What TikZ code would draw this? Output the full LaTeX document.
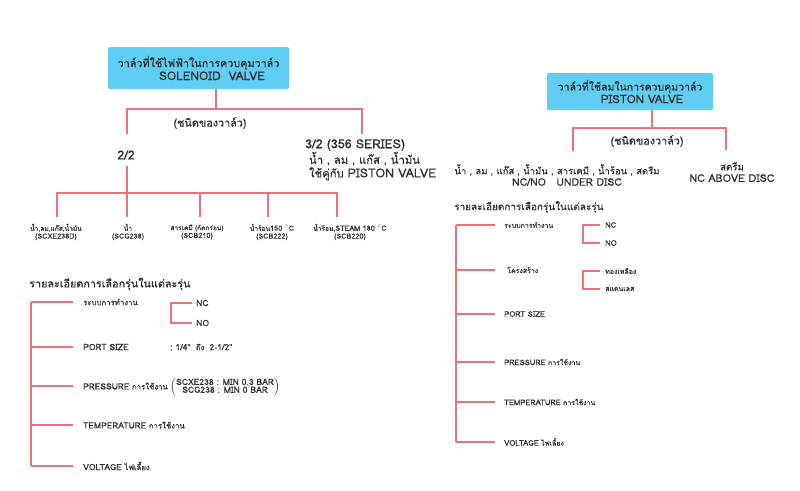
\documentclass[tikz,border=0pt]{standalone}
\usepackage{fontspec}
\newfontfamily\thaifont[Script=Thai, FakeBold=0.3]{Loma}
\newfontfamily\latfont[Scale=1.1, FakeBold=0.3]{Loma}
\usetikzlibrary{positioning,calc}
\definecolor{boxBlue}{RGB}{96,205,242}
\definecolor{linkRed}{RGB}{238,112,122}
\definecolor{textGray}{RGB}{45,45,45}
\newcommand{\fsz}[1]{\fontsize{#1}{1.2\dimexpr #1pt\relax}\selectfont}
\newcommand{\en}[1]{{\latfont #1}}
% one detail line of a list: name, position, text
\newcommand{\dtItem}[3]{\node[item] (#1) at (#2) {#3};}
\tikzset{
  vbox/.style={fill=boxBlue, rounded corners=2pt, align=center,
    inner sep=0pt, text=textGray, font=\thaifont\fsz{10.8}},
  link/.style={draw=linkRed, line width=1.1pt},
  txt/.style={text=textGray, inner sep=0pt, font=\thaifont\fsz{10.8}},
  bigtxt/.style={txt, font=\thaifont\fsz{11.3}},
  tiny/.style={txt, align=center, font=\thaifont\fsz{6.6}},
  item/.style={txt, anchor=west, font=\thaifont\fsz{7.8}},
  head/.style={txt, anchor=west, font=\thaifont\fsz{10.8}}
}

\begin{document}
\begin{tikzpicture}[x=1pt, y=1pt]
  \useasboundingbox[fill=white] (0,0) rectangle (800,-490);

  % ---- solenoid valve
  \node[vbox, minimum width=181pt, minimum height=42pt] (sol) at (198.5,-68)
    {วาล์วที่ใช้ไฟฟ้าในการควบคุมวาล์ว\\ \hspace*{27pt}\en{SOLENOID\ \ VALVE}};
  \node[txt] (soltype) at (210,-123) {(ชนิดของวาล์ว)};
  \node[bigtxt] (t22) at (126,-155) {\en{2/2}};
  \node[bigtxt, anchor=north west, align=left] (t32) at (305,-139)
    {\en{3/2 (356 SERIES)}\\ \ น้ำ , ลม , แก๊ส , น้ำมัน\\ \ ใช้คู่กับ \en{PISTON VALVE}};
  \coordinate (solJ) at (216,-109);
  \coordinate (t22top) at (127,-134);
  \coordinate (t32top) at (362,-134);
  \draw[link] (sol.south -| solJ) -- (solJ);
  \draw[link] (t22top) |- (solJ) -| (t32top);

  \node[tiny] (lab1) at (56,-232)  {น้ำ,ลม,แก๊ส,น้ำมัน\\\en{(SCXE238D)}};
  \node[tiny] (lab2) at (128,-232) {น้ำ\\\en{(SCG238)}};
  \node[tiny] (lab3) at (197,-232) {สารเคมี (กัดกร่อน)\\\en{(SCB210)}};
  \node[tiny] (lab4) at (272,-232) {น้ำร้อน\en{150 $^{\circ}$C}\\\en{(SCB222)}};
  \node[tiny] (lab5) at (350,-232) {น้ำร้อน,\en{STEAM 180 $^{\circ}$C}\\\en{(SCB220)}};
  \coordinate (bar1) at (57,-193);
  \coordinate (bar5) at (337,-193);
  \coordinate (d1) at (57,-217);
  \coordinate (d2) at (127,-217);
  \coordinate (d3) at (200,-217);
  \coordinate (d4) at (268,-217);
  \coordinate (d5) at (337,-217);
  \draw[link] (t22.south -| d2) ++(0,-6) -- (d2);
  \draw[link] (d1) |- (bar5) -- (d5);
  \path[link]
  (d3 |- bar1) edge (d3)
  (d4 |- bar1) edge (d4)
  ;

  % ---- solenoid details
  \node[head] (ldet) at (29,-284) {รายละเอียดการเลือกรุ่นในแต่ละรุ่น};
  \coordinate (lspine) at (31,-302);
  \dtItem{li1}{83,-302}{ระบบการทำงาน}
  \dtItem{li2}{83,-347}{\en{PORT SIZE}}
  \dtItem{li3}{83,-386}{\en{PRESSURE} การใช้งาน}
  \dtItem{li4}{83,-425}{\en{TEMPERATURE} การใช้งาน}
  \dtItem{li5}{83,-466}{\en{VOLTAGE} ไฟเลี้ยง}
  \draw[link] (li1.west -| lspine) -- (li5.west -| lspine);
  \path[link, shorten >=10pt]
  (li1.west -| lspine) edge (li1.west)
  (li2.west -| lspine) edge (li2.west)
  (li3.west -| lspine) edge (li3.west)
  (li4.west -| lspine) edge (li4.west)
  (li5.west -| lspine) edge (li5.west)
  ;
  \dtItem{lnc}{196,-303}{\en{NC}}
  \dtItem{lno}{196,-323}{\en{NO}}
  \draw[link, shorten <=4pt, shorten >=4pt] (lnc.west) -- ++(-25,0) |- (lno.west);
  \dtItem{lport}{170,-347}{\en{:\ 1/4"}\ \ ถึง\ \ \en{2-1/2"}}
  \node[txt, font=\thaifont\fsz{7.8}] (lpres) at (225,-387)
    {$\left(\mbox{\latfont\begin{tabular}{@{}c@{}}SCXE238 : MIN 0.3 BAR\\[-1.5pt] SCG238 : MIN 0 BAR\end{tabular}}\right)$};

  % ---- piston valve
  \node[vbox, font=\thaifont\fsz{10.5}, minimum width=166pt, minimum height=37pt] (pis) at (630,-91.5)
    {วาล์วที่ใช้ลมในการควบคุมวาล์ว\\ \hspace*{24pt}\en{PISTON VALVE}};
  \node[txt] (pistype) at (647,-141) {(ชนิดของวาล์ว)};
  \node[bigtxt, align=center, font=\thaifont\fsz{9.5}] (pleft) at (557,-175)
    {น้ำ , ลม , แก๊ส , น้ำมัน , สารเคมี , น้ำร้อน , สตรีม\\ \hspace*{20pt}\en{NC/NO\ \ \ UNDER DISC}};
  \node[bigtxt, align=center, font=\thaifont\fsz{9.7}] (pright) at (732,-172)
    {สตรีม\\\en{NC ABOVE DISC}};
  \coordinate (pisJ) at (652,-128);
  \coordinate (pltop) at (573,-151);
  \coordinate (prtop) at (726,-150);
  \draw[link] (pis.south -| pisJ) -- (pisJ);
  \draw[link] (pltop) |- (pisJ) -| (prtop);

  % ---- piston details
  \node[head, font=\thaifont\fsz{10}] (rdet) at (454,-207) {รายละเอียดการเลือกรุ่นในแต่ละรุ่น};
  \coordinate (rspine) at (456,-225);
  \tikzset{item/.append style={font=\thaifont\fsz{7}}}
  \dtItem{ri1}{504,-225}{ระบบการทำงาน}
  \dtItem{ri2}{507,-270}{โครงสร้าง}
  \dtItem{ri3}{504,-314}{\en{PORT SIZE}}
  \dtItem{ri4}{504,-362}{\en{PRESSURE} การใช้งาน}
  \dtItem{ri5}{504,-402}{\en{TEMPERATURE} การใช้งาน}
  \dtItem{ri6}{504,-442}{\en{VOLTAGE} ไฟเลี้ยง}
  \draw[link] (ri1.west -| rspine) -- (ri6.west -| rspine);
  \path[link, shorten >=9pt]
  (ri1.west -| rspine) edge (ri1.west)
  (ri2.west -| rspine) edge ([xshift=-3pt]ri2.west)
  (ri3.west -| rspine) edge (ri3.west)
  (ri4.west -| rspine) edge (ri4.west)
  (ri5.west -| rspine) edge (ri5.west)
  (ri6.west -| rspine) edge (ri6.west)
  ;
  \dtItem{rnc}{605,-225}{\en{NC}}
  \dtItem{rno}{605,-243}{\en{NO}}
  \dtItem{rbr}{605,-271}{ทองเหลือง}
  \dtItem{rss}{605,-289}{สแตนเลส}
  \draw[link, shorten <=5pt, shorten >=5pt] (rnc.west) -- ++(-22,0) |- (rno.west);
  \draw[link, shorten <=5pt, shorten >=5pt] (rbr.west) -- ++(-22,0) |- (rss.west);
\end{tikzpicture}
\end{document}
